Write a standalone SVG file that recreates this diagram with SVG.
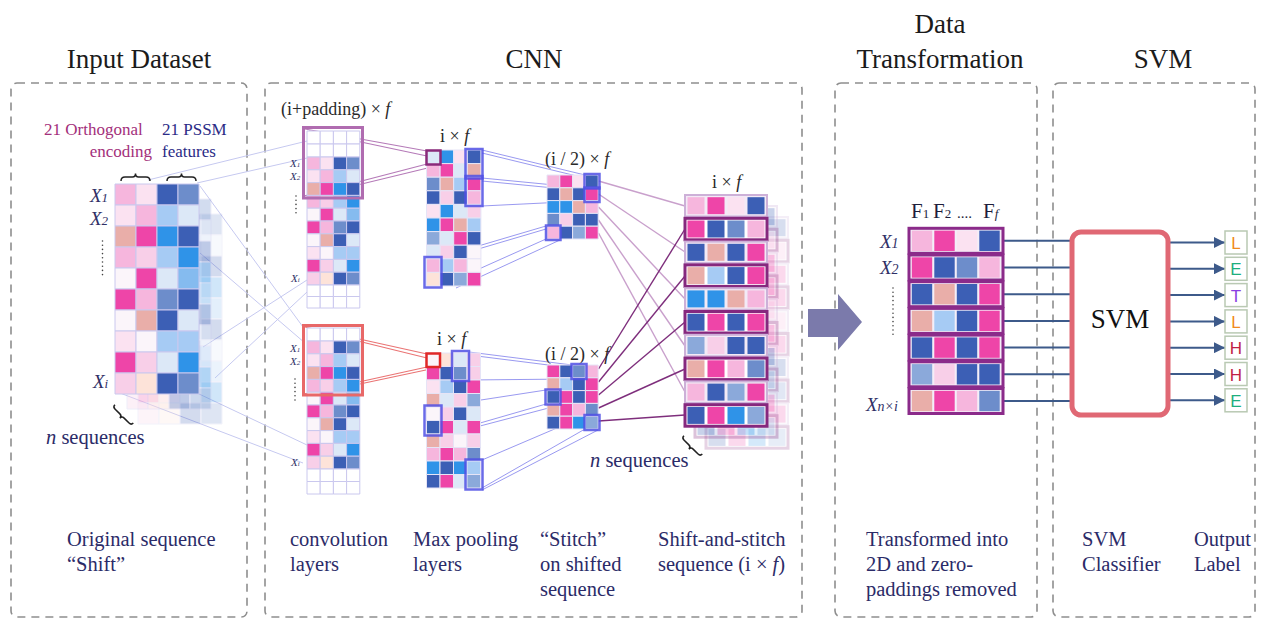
<svg xmlns="http://www.w3.org/2000/svg" xmlns:xlink="http://www.w3.org/1999/xlink" width="1261" height="619" viewBox="0 0 1261 619">
<style>
text{font-family:"Liberation Serif","Times New Roman",serif}
.title{font-size:27px;fill:#1b1b1b;text-anchor:middle}
.cap{font-size:20.5px;fill:#2b2b68}
.dim{font-size:18px;fill:#2a2a2a}
.xl{font-size:19px;font-style:italic;fill:#2f2f66}
.xs{font-size:11px;font-style:italic;fill:#2f2f66}
.out{font-family:"Liberation Sans",Arial,sans-serif;font-size:17px;text-anchor:middle}
.panel{fill:none;stroke:#8e8e8e;stroke-width:1.6;stroke-dasharray:8 6}
.dots{stroke:#444;stroke-width:1.6;stroke-linecap:round;stroke-dasharray:0 4.2}
.brace{fill:none;stroke:#222;stroke-width:1.5}
.c rect{stroke:#cac8ee;stroke-width:1;vector-effect:non-scaling-stroke}
.g rect{stroke:#e6e4f6;stroke-width:1;vector-effect:non-scaling-stroke}
.lp{fill:#f6b6dd}.lp2{fill:#f8cfe8}.vp{fill:#fbe2f1}.hp{fill:#ee45a8}.sa{fill:#e9aea9}.pe{fill:#fde3d9}
.db{fill:#3c5fb5}.mb{fill:#6d8dcb}.mb2{fill:#8ba9da}.lb{fill:#a6cbf4}.vb{fill:#dce8f7}.bb{fill:#2f93e8}
.sb{fill:#85bbef}.wh{fill:#fbf5fa}.bl{fill:#ffffff}
.fan{stroke:#c6c9f0;stroke-width:1;fill:none}
.pl{stroke:#b57ab8;stroke-width:1.2}
.rl{stroke:#ea7474;stroke-width:1.2}
.bl1{stroke:#7b7bec;stroke-width:0.9;opacity:.85}
.lt{stroke:#c9a0cc;stroke-width:1.4}
.dk{stroke:#7e2e7c;stroke-width:1.4}
.hb{fill:none;stroke:#5050e4;stroke-width:2.5;opacity:.85}
.sv{stroke:#3d5a8a;stroke-width:2}
.odd{fill:#f3eaf6;stroke:#cdb0d8;stroke-width:2}
.even{fill:#ffffff;stroke:#86287e;stroke-width:3}
.dtr{fill:#f4eef8;stroke:#8b2b8a;stroke-width:3}
.ob{fill:#fff;stroke:#b9c9b3;stroke-width:1.5}
</style>
<defs>
  <!-- one encoded sequence: 4 feature columns x 10 residues, unit cells -->
  <g id="seq" class="c">
    <rect x="0" y="0" width="1" height="1" class="lp"/><rect x="1" y="0" width="1" height="1" class="vp"/><rect x="2" y="0" width="1" height="1" class="db"/><rect x="3" y="0" width="1" height="1" class="mb"/>
    <rect x="0" y="1" width="1" height="1" class="vp"/><rect x="1" y="1" width="1" height="1" class="lp"/><rect x="2" y="1" width="1" height="1" class="lb"/><rect x="3" y="1" width="1" height="1" class="vb"/>
    <rect x="0" y="2" width="1" height="1" class="sa"/><rect x="1" y="2" width="1" height="1" class="hp"/><rect x="2" y="2" width="1" height="1" class="bb"/><rect x="3" y="2" width="1" height="1" class="db"/>
    <rect x="0" y="3" width="1" height="1" class="lp"/><rect x="1" y="3" width="1" height="1" class="lp2"/><rect x="2" y="3" width="1" height="1" class="lb"/><rect x="3" y="3" width="1" height="1" class="bb"/>
    <rect x="0" y="4" width="1" height="1" class="wh"/><rect x="1" y="4" width="1" height="1" class="hp"/><rect x="2" y="4" width="1" height="1" class="vb"/><rect x="3" y="4" width="1" height="1" class="sb"/>
    <rect x="0" y="5" width="1" height="1" class="hp"/><rect x="1" y="5" width="1" height="1" class="lp"/><rect x="2" y="5" width="1" height="1" class="mb"/><rect x="3" y="5" width="1" height="1" class="db"/>
    <rect x="0" y="6" width="1" height="1" class="wh"/><rect x="1" y="6" width="1" height="1" class="sa"/><rect x="2" y="6" width="1" height="1" class="db"/><rect x="3" y="6" width="1" height="1" class="vb"/>
    <rect x="0" y="7" width="1" height="1" class="vp"/><rect x="1" y="7" width="1" height="1" class="wh"/><rect x="2" y="7" width="1" height="1" class="lb"/><rect x="3" y="7" width="1" height="1" class="lb"/>
    <rect x="0" y="8" width="1" height="1" class="hp"/><rect x="1" y="8" width="1" height="1" class="lp2"/><rect x="2" y="8" width="1" height="1" class="vb"/><rect x="3" y="8" width="1" height="1" class="bb"/>
    <rect x="0" y="9" width="1" height="1" class="lp2"/><rect x="1" y="9" width="1" height="1" class="pe"/><rect x="2" y="9" width="1" height="1" class="db"/><rect x="3" y="9" width="1" height="1" class="mb"/>
  </g>
  <!-- zero-padding row -->
  <g id="pad" class="c">
    <rect x="0" y="0" width="1" height="1" class="bl"/><rect x="1" y="0" width="1" height="1" class="bl"/><rect x="2" y="0" width="1" height="1" class="bl"/><rect x="3" y="0" width="1" height="1" class="bl"/>
  </g>
  <marker id="ah" viewBox="0 0 10 10" refX="10" refY="5" markerUnits="userSpaceOnUse" markerWidth="11" markerHeight="11" orient="auto">
    <path d="M0,0 L10,5 L0,10 z" fill="#3d5a8a"/>
  </marker>
</defs>

<!-- section frames -->
<g id="frames">
  <rect class="panel" x="11" y="83" width="236" height="534" rx="6"/>
  <rect class="panel" x="265" y="83" width="537" height="534" rx="6"/>
  <rect class="panel" x="835" y="83" width="202" height="534" rx="6"/>
  <rect class="panel" x="1053" y="83" width="202" height="534" rx="6"/>
</g>

<g id="titles">
  <text class="title" x="139" y="68">Input Dataset</text>
  <text class="title" x="534" y="68">CNN</text>
  <text class="title" x="940" y="33">Data</text>
  <text class="title" x="940" y="68">Transformation</text>
  <text class="title" x="1163" y="68">SVM</text>
</g>

<!-- connectors -->
<g id="connectors">
  <!-- sequence to convolution windows -->
  <line class="fan" x1="148" y1="180" x2="307" y2="141"/>
  <line class="fan" x1="197" y1="183" x2="307" y2="158"/>
  <line class="fan" x1="200" y1="186" x2="303" y2="327"/>
  <line class="fan" x1="200" y1="253" x2="305" y2="343"/>
  <line class="fan" x1="203" y1="347" x2="307" y2="280"/>
  <line class="fan" x1="215" y1="378" x2="307" y2="292"/>
  <line class="fan" x1="197" y1="393" x2="307" y2="445"/>
  <line class="fan" x1="120" y1="393" x2="303" y2="463"/>
  <!-- convolution window to pooled cell -->
  <line class="pl" x1="305" y1="129" x2="427" y2="151"/>
  <line class="pl" x1="309" y1="131" x2="427" y2="156"/>
  <line class="pl" x1="304" y1="196" x2="427" y2="164"/>
  <line class="pl" x1="308" y1="197" x2="440" y2="165"/>
  <line class="rl" x1="305" y1="327" x2="427" y2="354"/>
  <line class="rl" x1="309" y1="329" x2="427" y2="358"/>
  <line class="rl" x1="304" y1="394" x2="427" y2="367"/>
  <line class="rl" x1="308" y1="395" x2="440" y2="367"/>
  <!-- pooling to stitch -->
  <line class="bl1" x1="482" y1="150" x2="585" y2="175"/>
  <line class="bl1" x1="482" y1="153" x2="585" y2="178"/>
  <line class="bl1" x1="482" y1="178" x2="585" y2="188"/>
  <line class="bl1" x1="482" y1="181" x2="585" y2="191"/>
  <line class="bl1" x1="482" y1="206" x2="585" y2="201"/>
  <line class="bl1" x1="441" y1="257" x2="546" y2="226"/>
  <line class="bl1" x1="441" y1="260" x2="546" y2="229"/>
  <line class="bl1" x1="441" y1="286" x2="546" y2="239"/>
  <line class="bl1" x1="456" y1="288" x2="560" y2="240"/>
  <line class="bl1" x1="469" y1="352" x2="572" y2="365"/>
  <line class="bl1" x1="469" y1="355" x2="572" y2="368"/>
  <line class="bl1" x1="469" y1="380" x2="572" y2="379"/>
  <line class="bl1" x1="442" y1="406" x2="546" y2="390"/>
  <line class="bl1" x1="442" y1="434" x2="546" y2="404"/>
  <line class="bl1" x1="442" y1="436" x2="560" y2="405"/>
  <line class="bl1" x1="482" y1="460" x2="585" y2="416"/>
  <line class="bl1" x1="482" y1="488" x2="585" y2="429"/>
  <line class="bl1" x1="482" y1="490" x2="598" y2="430"/>
  <!-- stitch to shift-and-stitch rows -->
  <line class="lt" x1="598.5" y1="181" x2="685" y2="206"/>
  <line class="lt" x1="598.5" y1="194" x2="685" y2="252"/>
  <line class="lt" x1="598.5" y1="207" x2="685" y2="299"/>
  <line class="lt" x1="598.5" y1="220" x2="685" y2="346"/>
  <line class="lt" x1="598.5" y1="233" x2="685" y2="392"/>
  <line class="dk" x1="598.5" y1="369" x2="685" y2="229"/>
  <line class="dk" x1="598.5" y1="382" x2="685" y2="276"/>
  <line class="dk" x1="598.5" y1="395" x2="685" y2="322"/>
  <line class="dk" x1="598.5" y1="408" x2="685" y2="369"/>
  <line class="dk" x1="598.5" y1="421" x2="685" y2="415"/>
  <!-- feature rows into the classifier -->
  <line class="sv" x1="1003" y1="240.8" x2="1072" y2="240.8"/>
  <line class="sv" x1="1003" y1="267.5" x2="1072" y2="267.5"/>
  <line class="sv" x1="1003" y1="294.2" x2="1072" y2="294.2"/>
  <line class="sv" x1="1003" y1="320.9" x2="1072" y2="320.9"/>
  <line class="sv" x1="1003" y1="347.6" x2="1072" y2="347.6"/>
  <line class="sv" x1="1003" y1="374.3" x2="1072" y2="374.3"/>
  <line class="sv" x1="1003" y1="401" x2="1072" y2="401"/>
  <!-- classifier to labels -->
  <line class="sv" x1="1168" y1="242.5" x2="1225" y2="242.5" marker-end="url(#ah)"/>
  <line class="sv" x1="1168" y1="268.8" x2="1225" y2="268.8" marker-end="url(#ah)"/>
  <line class="sv" x1="1168" y1="295.1" x2="1225" y2="295.1" marker-end="url(#ah)"/>
  <line class="sv" x1="1168" y1="321.4" x2="1225" y2="321.4" marker-end="url(#ah)"/>
  <line class="sv" x1="1168" y1="347.7" x2="1225" y2="347.7" marker-end="url(#ah)"/>
  <line class="sv" x1="1168" y1="374" x2="1225" y2="374" marker-end="url(#ah)"/>
  <line class="sv" x1="1168" y1="400.3" x2="1225" y2="400.3" marker-end="url(#ah)"/>
</g>

<!-- input sequences -->
<g id="input-dataset">
  <text x="44" y="135" font-size="17" fill="#a3307b">21 Orthogonal</text>
  <text x="152" y="157" font-size="17" fill="#a3307b" text-anchor="end">encoding</text>
  <text x="162" y="135" font-size="17" fill="#2b2b86">21 PSSM</text>
  <text x="162" y="157" font-size="17" fill="#2b2b86">features</text>
  <path class="brace" d="M121,181 Q121,177 125,177 L132.5,177 Q135.5,177 135.5,173.5 Q135.5,177 138.5,177 L146,177 Q150,177 150,181"/>
  <path class="brace" d="M167,181 Q167,177 171,177 L178.5,177 Q181.5,177 181.5,173.5 Q181.5,177 184.5,177 L192,177 Q196,177 196,181"/>
  <use xlink:href="#seq" transform="translate(138,214) scale(21)" opacity="0.22"/>
  <use xlink:href="#seq" transform="translate(127,199) scale(21)" opacity="0.3"/>
  <use xlink:href="#seq" transform="translate(115,184) scale(21)"/>
  <text class="xl" x="90" y="202">X<tspan font-size="13">1</tspan></text>
  <text class="xl" x="90" y="225">X<tspan font-size="13">2</tspan></text>
  <line class="dots" x1="102.5" y1="241" x2="102.5" y2="278"/>
  <text class="xl" x="93" y="388">X<tspan font-size="13">i</tspan></text>
  <path class="brace" transform="translate(122,416) rotate(-45)" d="M3,-13 Q0,-13 0,-10 L0,-3 Q0,0 -3,0 Q0,0 0,3 L0,10 Q0,13 3,13"/>
  <text x="46" y="444" font-size="20.5" fill="#2b2b68"><tspan font-style="italic">n</tspan> sequences</text>
</g>

<!-- convolution layers -->
<g id="conv-layers">
  <text class="dim" x="281" y="115">(i+padding) × <tspan font-style="italic">f</tspan></text>
  <use xlink:href="#pad" transform="translate(307,131) scale(13.2,13)"/>
  <use xlink:href="#pad" transform="translate(307,144) scale(13.2,13)"/>
  <use xlink:href="#seq" transform="translate(307,157) scale(13.2,12.8)"/>
  <use xlink:href="#pad" transform="translate(307,285) scale(13.2,11.5)"/>
  <use xlink:href="#pad" transform="translate(307,296.5) scale(13.2,11.5)"/>
  <rect x="303.5" y="127.5" width="59" height="70.5" fill="none" stroke="#b06cb0" stroke-width="3"/>
  <text class="xs" x="290" y="167">X<tspan font-size="7">1</tspan></text>
  <text class="xs" x="290" y="180">X<tspan font-size="7">2</tspan></text>
  <line class="dots" x1="296" y1="196" x2="296" y2="216" stroke-width="1.2" stroke-dasharray="0 2.6"/>
  <text class="xs" x="291" y="282">X<tspan font-size="7">i</tspan></text>

  <use xlink:href="#pad" transform="translate(307,328) scale(13.2,13)"/>
  <use xlink:href="#seq" transform="translate(307,341) scale(13.2,12.8)"/>
  <use xlink:href="#pad" transform="translate(307,469) scale(13.2,12.5)"/>
  <use xlink:href="#pad" transform="translate(307,481.5) scale(13.2,12.5)"/>
  <rect x="303.5" y="325.5" width="59" height="69.5" fill="none" stroke="#e86868" stroke-width="3"/>
  <text class="xs" x="290" y="352">X<tspan font-size="7">1</tspan></text>
  <text class="xs" x="290" y="365">X<tspan font-size="7">2</tspan></text>
  <line class="dots" x1="295" y1="379" x2="295" y2="401" stroke-width="1.2" stroke-dasharray="0 2.6"/>
  <text class="xs" x="291" y="466">X<tspan font-size="7">i</tspan></text>
</g>

<!-- max pooling layers -->
<g id="max-pooling">
  <text class="dim" x="440" y="142">i × <tspan font-style="italic">f</tspan></text>
  <g class="g" transform="translate(426.5,150) scale(13.6)">
    <rect x="0" y="0" width="1" height="1" class="vb"/><rect x="1" y="0" width="1" height="1" class="bb"/><rect x="2" y="0" width="1" height="1" class="vp"/><rect x="3" y="0" width="1" height="1" class="db"/>
    <rect x="0" y="1" width="1" height="1" class="lp"/><rect x="1" y="1" width="1" height="1" class="hp"/><rect x="2" y="1" width="1" height="1" class="vb"/><rect x="3" y="1" width="1" height="1" class="sa"/>
    <rect x="0" y="2" width="1" height="1" class="mb"/><rect x="1" y="2" width="1" height="1" class="sa"/><rect x="2" y="2" width="1" height="1" class="lb"/><rect x="3" y="2" width="1" height="1" class="hp"/>
    <rect x="0" y="3" width="1" height="1" class="db"/><rect x="1" y="3" width="1" height="1" class="lp2"/><rect x="2" y="3" width="1" height="1" class="db"/><rect x="3" y="3" width="1" height="1" class="lp"/>
    <rect x="0" y="4" width="1" height="1" class="vp"/><rect x="1" y="4" width="1" height="1" class="bb"/><rect x="2" y="4" width="1" height="1" class="vb"/><rect x="3" y="4" width="1" height="1" class="lp2"/>
    <rect x="0" y="5" width="1" height="1" class="bb"/><rect x="1" y="5" width="1" height="1" class="hp"/><rect x="2" y="5" width="1" height="1" class="sa"/><rect x="3" y="5" width="1" height="1" class="lb"/>
    <rect x="0" y="6" width="1" height="1" class="mb2"/><rect x="1" y="6" width="1" height="1" class="vb"/><rect x="2" y="6" width="1" height="1" class="hp"/><rect x="3" y="6" width="1" height="1" class="db"/>
    <rect x="0" y="7" width="1" height="1" class="vb"/><rect x="1" y="7" width="1" height="1" class="lp2"/><rect x="2" y="7" width="1" height="1" class="db"/><rect x="3" y="7" width="1" height="1" class="wh"/>
    <rect x="0" y="8" width="1" height="1" class="lp"/><rect x="1" y="8" width="1" height="1" class="lb"/><rect x="2" y="8" width="1" height="1" class="lp"/><rect x="3" y="8" width="1" height="1" class="wh"/>
    <rect x="0" y="9" width="1" height="1" class="pe"/><rect x="1" y="9" width="1" height="1" class="db"/><rect x="2" y="9" width="1" height="1" class="mb2"/><rect x="3" y="9" width="1" height="1" class="hp"/>
  </g>
  <rect x="426.5" y="150.5" width="14" height="14" fill="none" stroke="#8a2a7a" stroke-width="2.5"/>
  <rect class="hb" x="465.5" y="149" width="17" height="29.5"/>
  <rect class="hb" x="465.5" y="176" width="17" height="30"/>
  <rect class="hb" x="424.5" y="257" width="17" height="30.5"/>

  <text class="dim" x="437" y="345">i × <tspan font-style="italic">f</tspan></text>
  <g class="g" transform="translate(426.5,353) scale(13.5)">
    <rect x="0" y="0" width="1" height="1" class="wh"/><rect x="1" y="0" width="1" height="1" class="pe"/><rect x="2" y="0" width="1" height="1" class="vb"/><rect x="3" y="0" width="1" height="1" class="lp2"/>
    <rect x="0" y="1" width="1" height="1" class="hp"/><rect x="1" y="1" width="1" height="1" class="db"/><rect x="2" y="1" width="1" height="1" class="mb"/><rect x="3" y="1" width="1" height="1" class="lp2"/>
    <rect x="0" y="2" width="1" height="1" class="vp"/><rect x="1" y="2" width="1" height="1" class="lb"/><rect x="2" y="2" width="1" height="1" class="db"/><rect x="3" y="2" width="1" height="1" class="hp"/>
    <rect x="0" y="3" width="1" height="1" class="sa"/><rect x="1" y="3" width="1" height="1" class="vb"/><rect x="2" y="3" width="1" height="1" class="lp2"/><rect x="3" y="3" width="1" height="1" class="mb2"/>
    <rect x="0" y="4" width="1" height="1" class="wh"/><rect x="1" y="4" width="1" height="1" class="lp2"/><rect x="2" y="4" width="1" height="1" class="db"/><rect x="3" y="4" width="1" height="1" class="vb"/>
    <rect x="0" y="5" width="1" height="1" class="db"/><rect x="1" y="5" width="1" height="1" class="hp"/><rect x="2" y="5" width="1" height="1" class="vb"/><rect x="3" y="5" width="1" height="1" class="hp"/>
    <rect x="0" y="6" width="1" height="1" class="sa"/><rect x="1" y="6" width="1" height="1" class="lp2"/><rect x="2" y="6" width="1" height="1" class="wh"/><rect x="3" y="6" width="1" height="1" class="lp2"/>
    <rect x="0" y="7" width="1" height="1" class="lp"/><rect x="1" y="7" width="1" height="1" class="hp"/><rect x="2" y="7" width="1" height="1" class="lp"/><rect x="3" y="7" width="1" height="1" class="mb"/>
    <rect x="0" y="8" width="1" height="1" class="bb"/><rect x="1" y="8" width="1" height="1" class="db"/><rect x="2" y="8" width="1" height="1" class="bb"/><rect x="3" y="8" width="1" height="1" class="lb"/>
    <rect x="0" y="9" width="1" height="1" class="db"/><rect x="1" y="9" width="1" height="1" class="hp"/><rect x="2" y="9" width="1" height="1" class="vb"/><rect x="3" y="9" width="1" height="1" class="mb2"/>
  </g>
  <rect x="426.5" y="353.5" width="13.5" height="13.5" fill="none" stroke="#e02828" stroke-width="2.5"/>
  <rect class="hb" x="452" y="351" width="17" height="30"/>
  <rect class="hb" x="424.5" y="405.5" width="17" height="30"/>
  <rect class="hb" x="465.5" y="459.5" width="17" height="30"/>
</g>

<!-- stitched feature maps -->
<g id="stitch">
  <text class="dim" x="545" y="165">(i / 2) × <tspan font-style="italic">f</tspan></text>
  <g class="g" transform="translate(547,175) scale(12.8)">
    <rect x="0" y="0" width="1" height="1" class="lp"/><rect x="1" y="0" width="1" height="1" class="hp"/><rect x="2" y="0" width="1" height="1" class="vp"/><rect x="3" y="0" width="1" height="1" class="db"/>
    <rect x="0" y="1" width="1" height="1" class="db"/><rect x="1" y="1" width="1" height="1" class="sa"/><rect x="2" y="1" width="1" height="1" class="db"/><rect x="3" y="1" width="1" height="1" class="hp"/>
    <rect x="0" y="2" width="1" height="1" class="bb"/><rect x="1" y="2" width="1" height="1" class="bb"/><rect x="2" y="2" width="1" height="1" class="sa"/><rect x="3" y="2" width="1" height="1" class="lp"/>
    <rect x="0" y="3" width="1" height="1" class="mb"/><rect x="1" y="3" width="1" height="1" class="lp2"/><rect x="2" y="3" width="1" height="1" class="db"/><rect x="3" y="3" width="1" height="1" class="db"/>
    <rect x="0" y="4" width="1" height="1" class="lp"/><rect x="1" y="4" width="1" height="1" class="db"/><rect x="2" y="4" width="1" height="1" class="mb2"/><rect x="3" y="4" width="1" height="1" class="hp"/>
  </g>
  <rect class="hb" x="584.5" y="174" width="15" height="14.5" stroke="#3a3ae0"/>
  <rect class="hb" x="584.5" y="187.5" width="15" height="14.5" stroke="#3a3ae0"/>
  <rect class="hb" x="546" y="225.5" width="14.5" height="14.5" stroke="#3a3ae0"/>

  <text class="dim" x="545" y="360">(i / 2) × <tspan font-style="italic">f</tspan></text>
  <g class="g" transform="translate(547,365) scale(12.8)">
    <rect x="0" y="0" width="1" height="1" class="hp"/><rect x="1" y="0" width="1" height="1" class="db"/><rect x="2" y="0" width="1" height="1" class="mb"/><rect x="3" y="0" width="1" height="1" class="lp"/>
    <rect x="0" y="1" width="1" height="1" class="sa"/><rect x="1" y="1" width="1" height="1" class="lb"/><rect x="2" y="1" width="1" height="1" class="db"/><rect x="3" y="1" width="1" height="1" class="hp"/>
    <rect x="0" y="2" width="1" height="1" class="db"/><rect x="1" y="2" width="1" height="1" class="hp"/><rect x="2" y="2" width="1" height="1" class="db"/><rect x="3" y="2" width="1" height="1" class="hp"/>
    <rect x="0" y="3" width="1" height="1" class="sa"/><rect x="1" y="3" width="1" height="1" class="hp"/><rect x="2" y="3" width="1" height="1" class="lp"/><rect x="3" y="3" width="1" height="1" class="mb"/>
    <rect x="0" y="4" width="1" height="1" class="db"/><rect x="1" y="4" width="1" height="1" class="hp"/><rect x="2" y="4" width="1" height="1" class="bb"/><rect x="3" y="4" width="1" height="1" class="mb2"/>
  </g>
  <rect class="hb" x="571.5" y="364" width="15" height="15" stroke="#3a3ae0"/>
  <rect class="hb" x="545.5" y="389.5" width="15" height="15" stroke="#3a3ae0"/>
  <rect class="hb" x="584.5" y="415" width="15" height="15" stroke="#3a3ae0"/>
</g>

<!-- shift-and-stitch sequence -->
<g id="shift-stitch">
  <defs>
    <g id="ssRows">
      <g transform="translate(0,0)"><rect class="odd" width="82" height="21.5"/><rect x="2.5" y="2.2" width="17" height="17" class="lp"/><rect x="22.5" y="2.2" width="17" height="17" class="hp"/><rect x="42.5" y="2.2" width="17" height="17" class="vp"/><rect x="62.5" y="2.2" width="17" height="17" class="db"/></g>
      <g transform="translate(0,23.3)"><rect class="even" width="82" height="21.5"/><rect x="2.5" y="2.2" width="17" height="17" class="hp"/><rect x="22.5" y="2.2" width="17" height="17" class="db"/><rect x="42.5" y="2.2" width="17" height="17" class="mb"/><rect x="62.5" y="2.2" width="17" height="17" class="lp"/></g>
      <g transform="translate(0,46.6)"><rect class="odd" width="82" height="21.5"/><rect x="2.5" y="2.2" width="17" height="17" class="db"/><rect x="22.5" y="2.2" width="17" height="17" class="sa"/><rect x="42.5" y="2.2" width="17" height="17" class="db"/><rect x="62.5" y="2.2" width="17" height="17" class="hp"/></g>
      <g transform="translate(0,69.9)"><rect class="even" width="82" height="21.5"/><rect x="2.5" y="2.2" width="17" height="17" class="sa"/><rect x="22.5" y="2.2" width="17" height="17" class="lb"/><rect x="42.5" y="2.2" width="17" height="17" class="db"/><rect x="62.5" y="2.2" width="17" height="17" class="hp"/></g>
      <g transform="translate(0,93.2)"><rect class="odd" width="82" height="21.5"/><rect x="2.5" y="2.2" width="17" height="17" class="bb"/><rect x="22.5" y="2.2" width="17" height="17" class="bb"/><rect x="42.5" y="2.2" width="17" height="17" class="sa"/><rect x="62.5" y="2.2" width="17" height="17" class="lp"/></g>
      <g transform="translate(0,116.5)"><rect class="even" width="82" height="21.5"/><rect x="2.5" y="2.2" width="17" height="17" class="db"/><rect x="22.5" y="2.2" width="17" height="17" class="hp"/><rect x="42.5" y="2.2" width="17" height="17" class="db"/><rect x="62.5" y="2.2" width="17" height="17" class="hp"/></g>
      <g transform="translate(0,139.8)"><rect class="odd" width="82" height="21.5"/><rect x="2.5" y="2.2" width="17" height="17" class="mb2"/><rect x="22.5" y="2.2" width="17" height="17" class="lp2"/><rect x="42.5" y="2.2" width="17" height="17" class="db"/><rect x="62.5" y="2.2" width="17" height="17" class="db"/></g>
      <g transform="translate(0,163.1)"><rect class="even" width="82" height="21.5"/><rect x="2.5" y="2.2" width="17" height="17" class="sa"/><rect x="22.5" y="2.2" width="17" height="17" class="hp"/><rect x="42.5" y="2.2" width="17" height="17" class="lp"/><rect x="62.5" y="2.2" width="17" height="17" class="mb"/></g>
      <g transform="translate(0,186.4)"><rect class="odd" width="82" height="21.5"/><rect x="2.5" y="2.2" width="17" height="17" class="lp"/><rect x="22.5" y="2.2" width="17" height="17" class="db"/><rect x="42.5" y="2.2" width="17" height="17" class="mb2"/><rect x="62.5" y="2.2" width="17" height="17" class="hp"/></g>
      <g transform="translate(0,209.7)"><rect class="even" width="82" height="21.5"/><rect x="2.5" y="2.2" width="17" height="17" class="db"/><rect x="22.5" y="2.2" width="17" height="17" class="hp"/><rect x="42.5" y="2.2" width="17" height="17" class="bb"/><rect x="62.5" y="2.2" width="17" height="17" class="mb2"/></g>
    </g>
  </defs>
  <text class="dim" x="712" y="188">i × <tspan font-style="italic">f</tspan></text>
  <use xlink:href="#ssRows" transform="translate(706,217)" opacity="0.2"/>
  <use xlink:href="#ssRows" transform="translate(695,206)" opacity="0.28"/>
  <rect x="685" y="195" width="82" height="231" fill="#fff" opacity="0.6"/>
  <use xlink:href="#ssRows" transform="translate(685,195)"/>
  <path class="brace" transform="translate(691,447) rotate(-45)" d="M3,-13 Q0,-13 0,-10 L0,-3 Q0,0 -3,0 Q0,0 0,3 L0,10 Q0,13 3,13"/>
  <text x="590" y="467" font-size="20.5" fill="#2b2b68"><tspan font-style="italic">n</tspan> sequences</text>
</g>

<!-- transition arrow -->
<g id="transition-arrow">
  <polygon points="808,309 838,309 838,294 862,322 838,350 838,337 808,337" fill="#7b7aab"/>
</g>

<!-- 2D feature matrix -->
<g id="data-transformation">
  <text x="911" y="218" font-size="21" fill="#1e1e3a">F<tspan font-size="13">1</tspan></text>
  <text x="933" y="218" font-size="21" fill="#1e1e3a">F<tspan font-size="13">2</tspan></text>
  <text x="957" y="218" font-size="15" fill="#1e1e3a">....</text>
  <text x="983" y="218" font-size="21" fill="#1e1e3a">F<tspan font-size="13" font-style="italic">f</tspan></text>
  <g transform="translate(909,228.3)"><rect class="dtr" width="94" height="25"/><rect x="2.8" y="2.3" width="20.4" height="20.4" class="lp"/><rect x="25.3" y="2.3" width="20.4" height="20.4" class="hp"/><rect x="47.8" y="2.3" width="20.4" height="20.4" class="vp"/><rect x="70.3" y="2.3" width="20.4" height="20.4" class="db"/></g>
  <g transform="translate(909,255)"><rect class="dtr" width="94" height="25"/><rect x="2.8" y="2.3" width="20.4" height="20.4" class="hp"/><rect x="25.3" y="2.3" width="20.4" height="20.4" class="db"/><rect x="47.8" y="2.3" width="20.4" height="20.4" class="mb"/><rect x="70.3" y="2.3" width="20.4" height="20.4" class="lp"/></g>
  <g transform="translate(909,281.7)"><rect class="dtr" width="94" height="25"/><rect x="2.8" y="2.3" width="20.4" height="20.4" class="db"/><rect x="25.3" y="2.3" width="20.4" height="20.4" class="sa"/><rect x="47.8" y="2.3" width="20.4" height="20.4" class="db"/><rect x="70.3" y="2.3" width="20.4" height="20.4" class="hp"/></g>
  <g transform="translate(909,308.4)"><rect class="dtr" width="94" height="25"/><rect x="2.8" y="2.3" width="20.4" height="20.4" class="sa"/><rect x="25.3" y="2.3" width="20.4" height="20.4" class="lb"/><rect x="47.8" y="2.3" width="20.4" height="20.4" class="db"/><rect x="70.3" y="2.3" width="20.4" height="20.4" class="hp"/></g>
  <g transform="translate(909,335.1)"><rect class="dtr" width="94" height="25"/><rect x="2.8" y="2.3" width="20.4" height="20.4" class="db"/><rect x="25.3" y="2.3" width="20.4" height="20.4" class="hp"/><rect x="47.8" y="2.3" width="20.4" height="20.4" class="db"/><rect x="70.3" y="2.3" width="20.4" height="20.4" class="hp"/></g>
  <g transform="translate(909,361.8)"><rect class="dtr" width="94" height="25"/><rect x="2.8" y="2.3" width="20.4" height="20.4" class="mb2"/><rect x="25.3" y="2.3" width="20.4" height="20.4" class="lp2"/><rect x="47.8" y="2.3" width="20.4" height="20.4" class="db"/><rect x="70.3" y="2.3" width="20.4" height="20.4" class="db"/></g>
  <g transform="translate(909,388.5)"><rect class="dtr" width="94" height="25"/><rect x="2.8" y="2.3" width="20.4" height="20.4" class="sa"/><rect x="25.3" y="2.3" width="20.4" height="20.4" class="hp"/><rect x="47.8" y="2.3" width="20.4" height="20.4" class="lp"/><rect x="70.3" y="2.3" width="20.4" height="20.4" class="mb"/></g>
  <text class="xl" x="880" y="248" font-size="21">X<tspan font-size="14">1</tspan></text>
  <text class="xl" x="880" y="274" font-size="21">X<tspan font-size="14">2</tspan></text>
  <line class="dots" x1="893" y1="288" x2="893" y2="338"/>
  <text class="xl" x="866" y="411" font-size="21">X<tspan font-size="14">n×i</tspan></text>
</g>

<!-- classifier -->
<g id="svm">
  <rect x="1072" y="232" width="96" height="183" rx="9" fill="#fff" stroke="#e06874" stroke-width="5"/>
  <text x="1120" y="328" font-size="27" fill="#111" text-anchor="middle">SVM</text>
</g>

<!-- predicted labels -->
<g id="output-labels">
  <rect class="ob" x="1225" y="231" width="22" height="23"/><text class="out" x="1236" y="249" fill="#f08a20">L</text>
  <rect class="ob" x="1225" y="257.3" width="22" height="23"/><text class="out" x="1236" y="275.3" fill="#1eae7e">E</text>
  <rect class="ob" x="1225" y="283.6" width="22" height="23"/><text class="out" x="1236" y="301.6" fill="#8a3ee2">T</text>
  <rect class="ob" x="1225" y="309.9" width="22" height="23"/><text class="out" x="1236" y="327.9" fill="#f08a20">L</text>
  <rect class="ob" x="1225" y="336.2" width="22" height="23"/><text class="out" x="1236" y="354.2" fill="#c01e44">H</text>
  <rect class="ob" x="1225" y="362.5" width="22" height="23"/><text class="out" x="1236" y="380.5" fill="#c01e44">H</text>
  <rect class="ob" x="1225" y="388.8" width="22" height="23"/><text class="out" x="1236" y="406.8" fill="#1eae7e">E</text>
</g>

<!-- step captions -->
<g id="captions">
  <text class="cap" x="67" y="546">Original sequence</text>
  <text class="cap" x="67" y="571">“Shift”</text>
  <text class="cap" x="290" y="546">convolution</text>
  <text class="cap" x="290" y="571">layers</text>
  <text class="cap" x="413" y="546">Max pooling</text>
  <text class="cap" x="413" y="571">layers</text>
  <text class="cap" x="540" y="546">“Stitch”</text>
  <text class="cap" x="540" y="571">on shifted</text>
  <text class="cap" x="540" y="596">sequence</text>
  <text class="cap" x="658" y="546">Shift-and-stitch</text>
  <text class="cap" x="658" y="571">sequence (i × <tspan font-style="italic">f</tspan>)</text>
  <text class="cap" x="866" y="546">Transformed into</text>
  <text class="cap" x="866" y="571">2D and zero-</text>
  <text class="cap" x="866" y="596">paddings removed</text>
  <text class="cap" x="1082" y="546">SVM</text>
  <text class="cap" x="1082" y="571">Classifier</text>
  <text class="cap" x="1194" y="546">Output</text>
  <text class="cap" x="1194" y="571">Label</text>
</g>
</svg>
